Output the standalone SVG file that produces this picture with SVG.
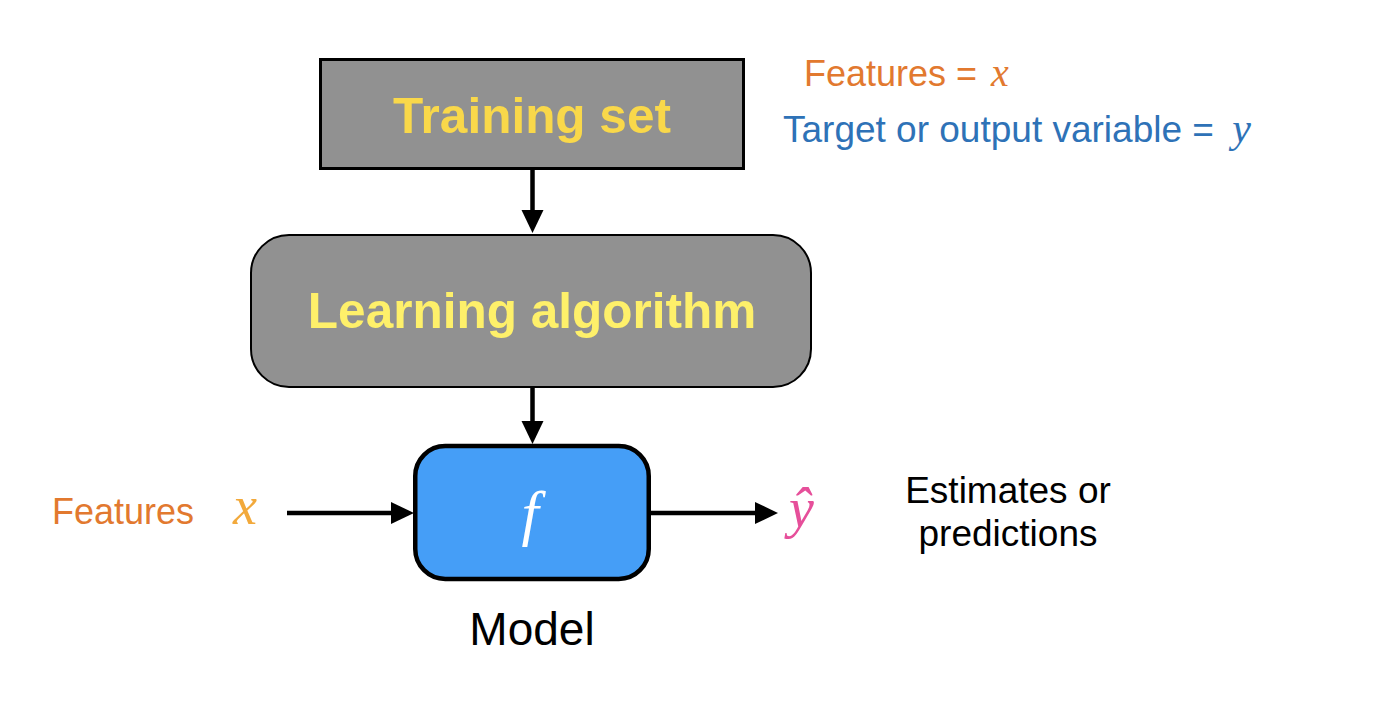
<svg xmlns="http://www.w3.org/2000/svg" width="1396" height="706" viewBox="0 0 1396 706">
<defs>
<style>
.box{fill:#919191;stroke:#000}
.title{font-family:"Liberation Sans",Arial,sans-serif;font-weight:bold;font-size:49.5px;text-anchor:middle}
.sans{font-family:"Liberation Sans",Arial,sans-serif;font-size:36px}
.math{font-family:"Liberation Serif","Times New Roman",serif;font-style:italic}
.conn{stroke:#000;stroke-width:4.5;fill:none;marker-end:url(#ah)}
</style>
<marker id="ah" markerUnits="userSpaceOnUse" markerWidth="24" markerHeight="24" refX="0" refY="11" orient="auto" overflow="visible">
<path d="M0,0 L23,11 L0,22 Z" fill="#000"/>
</marker>
</defs>
<rect width="1396" height="706" fill="#fff"/>
<g id="connectors">
<line class="conn" x1="532.5" y1="170" x2="532.5" y2="210"/>
<line class="conn" x1="532.5" y1="380" x2="532.5" y2="421"/>
<line class="conn" x1="287" y1="513" x2="391" y2="513"/>
<line class="conn" x1="651" y1="513" x2="755" y2="513"/>
</g>
<g id="training-set">
<rect class="box" x="320.5" y="59.5" width="423" height="109" stroke-width="3"/>
<text class="title" x="532" y="133" fill="#F9D84A">Training set</text>
</g>
<g id="learning-algorithm">
<rect class="box" x="251" y="235" width="560" height="152" rx="38" stroke-width="2"/>
<text class="title" x="532" y="328" fill="#FEF06A">Learning algorithm</text>
</g>
<g id="model">
<rect x="415.25" y="446" width="233.5" height="133" rx="30" fill="#459EF7" stroke="#000" stroke-width="4.5"/>
<text class="math" x="530" y="534" style="font-size:62px" fill="#fff" text-anchor="middle">f</text>
<text class="sans" x="532" y="645" style="font-size:46px" fill="#000" text-anchor="middle">Model</text>
</g>
<g id="features-input">
<text class="sans" x="52" y="524" fill="#E2792F">Features</text>
<text class="math" x="233" y="524" style="font-size:54px" fill="#F2A93B">x</text>
</g>
<g id="prediction">
<text class="math" x="789" y="527" style="font-size:56px" fill="#E64F9A">ŷ</text>
<text class="sans" x="1008" y="503" style="font-size:37px" fill="#000" text-anchor="middle">Estimates or</text>
<text class="sans" x="1008" y="546" style="font-size:37px" fill="#000" text-anchor="middle">predictions</text>
</g>
<g id="legend">
<text class="sans" x="804" y="86" fill="#E2792F">Features = <tspan class="math" dx="4" style="font-size:40px">x</tspan></text>
<text class="sans" x="783" y="142" style="font-size:37px" fill="#2E72B7">Target or output variable = <tspan class="math" dx="8" style="font-size:42px">y</tspan></text>
</g>
</svg>
